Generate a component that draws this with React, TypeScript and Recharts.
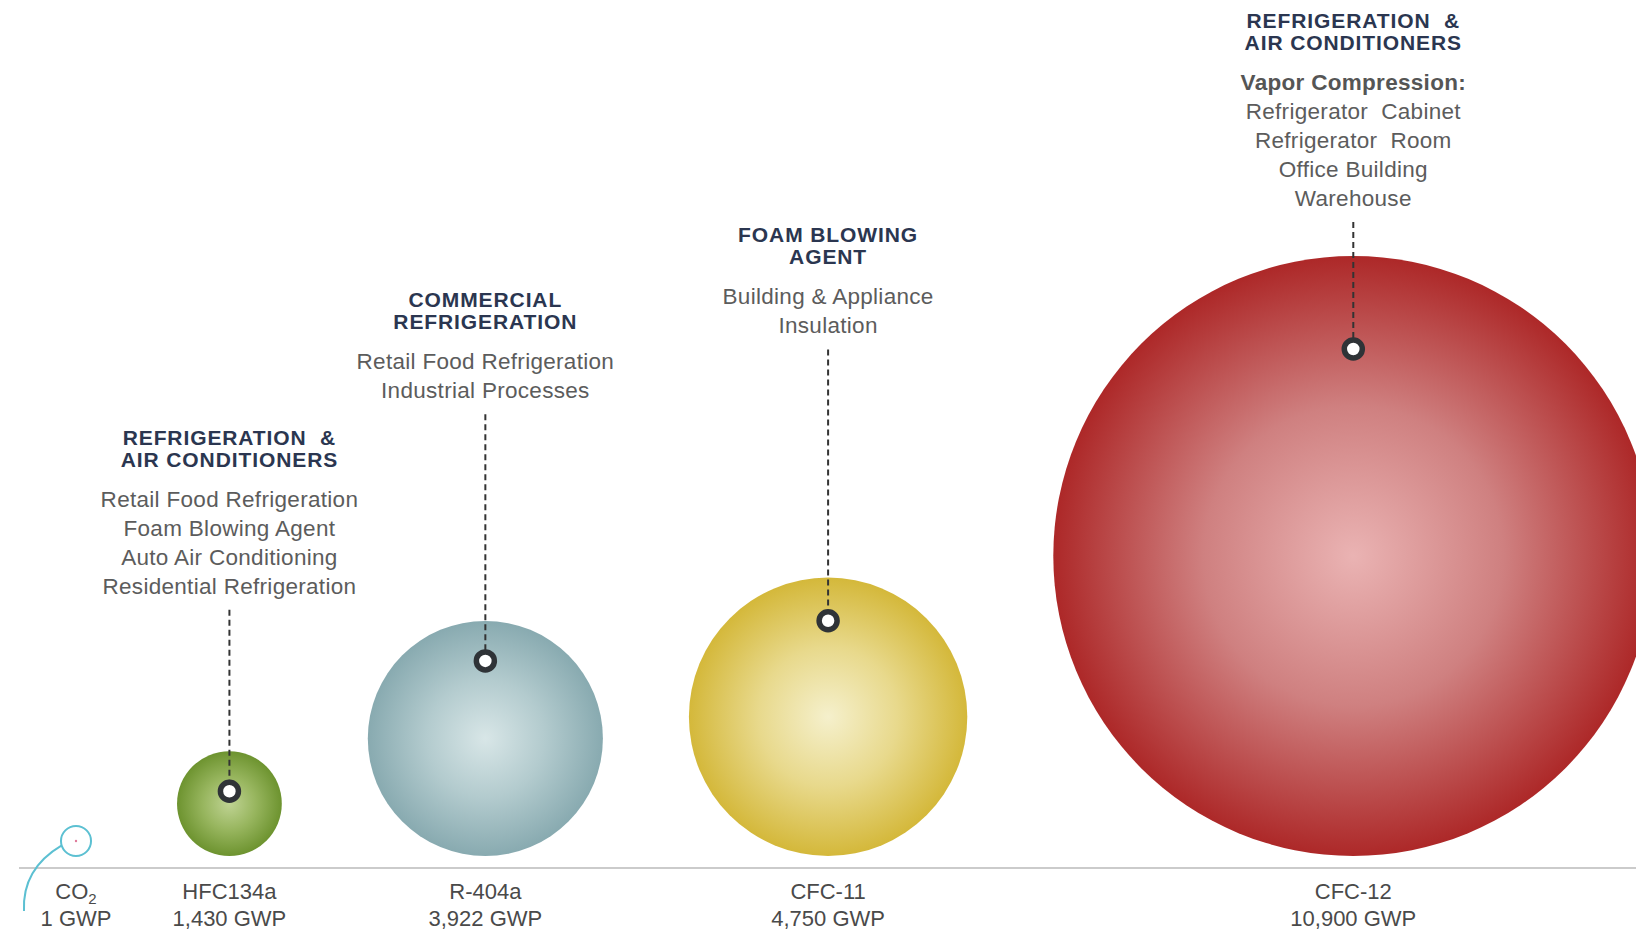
import { Scatter, ScatterChart, XAxis, YAxis, ZAxis } from 'recharts'

const compounds = ['CO2', 'HFC134a', 'R-404a', 'CFC-11', 'CFC-12']
const gwpValues = [1, 1430, 3922, 4750, 10900]
const gwpLabels = ['1 GWP', '1,430 GWP', '3,922 GWP', '4,750 GWP', '10,900 GWP']
const useTitles = [
  [],
  ['REFRIGERATION  &', 'AIR CONDITIONERS'],
  ['COMMERCIAL', 'REFRIGERATION'],
  ['FOAM BLOWING', 'AGENT'],
  ['REFRIGERATION  &', 'AIR CONDITIONERS'],
]
const useLeads = ['', '', '', '', 'Vapor Compression:']
const useLines = [
  [],
  ['Retail Food Refrigeration', 'Foam Blowing Agent', 'Auto Air Conditioning', 'Residential Refrigeration'],
  ['Retail Food Refrigeration', 'Industrial Processes'],
  ['Building & Appliance', 'Insulation'],
  ['Refrigerator  Cabinet', 'Refrigerator  Room', 'Office Building', 'Warehouse'],
]

// [center, mid, edge] for the radial shading
const bubbleColors = [
  ['#ffffff', '#ffffff', '#ffffff'],
  ['#bfd393', '#98b65f', '#6d932f'],
  ['#d8e6e7', '#b3cbce', '#88aab0'],
  ['#f5f0cc', '#e8d98c', '#d4b83a'],
  ['#eab3b3', '#cf8080', '#ad2828'],
]

const FONT = '"Liberation Sans", Arial, sans-serif'
const R_MIN = 15
const R_MAX = 300
const GWP_MAX = 10900
const GAP = 86
const START = 57

const radiusOf = (g: number) => R_MIN + ((R_MAX - R_MIN) * g) / GWP_MAX

// pack the bubbles left to right, each one touching the baseline
const xPositions: number[] = []
gwpValues.forEach((g, i) => {
  if (i === 0) xPositions.push(START)
  else xPositions.push(xPositions[i - 1] + radiusOf(gwpValues[i - 1]) + GAP + radiusOf(g))
})

const data = compounds.map((name, i) => ({ name, gwp: gwpValues[i], x: xPositions[i], y: 0, idx: i }))

function Bubble(props: any) {
  const { cx, cy, payload } = props
  const i: number = payload.idx
  const r: number = props.size ?? Math.PI * (props.width / 2) ** 2
  const cY = cy - r

  if (i === 0) {
    return (
      <g>
        <circle cx={cx} cy={cY} r={r} fill="none" stroke="#5cc0d2" strokeWidth={2} />
        <circle cx={cx} cy={cY} r={1.2} fill="#e07a9a" />
        <path
          d={`M ${cx - r * 0.95} ${cY + r * 0.3} Q ${cx - 54} ${cY + 28} ${cx - 52} ${cY + 70}`}
          fill="none"
          stroke="#5cc0d2"
          strokeWidth={2}
        />
      </g>
    )
  }

  const [c0, c1, c2] = bubbleColors[i]
  const gid = `bubble-grad-${i}`
  const markerY = cY - Math.min(r - 40, 0.69 * r)
  const titles = useTitles[i]
  const subs = useLeads[i] ? [useLeads[i], ...useLines[i]] : useLines[i]
  const subStep = 29
  const titleStep = 22
  const blockH = (subs.length - 1) * subStep + 40 + (titles.length - 1) * titleStep + 16
  const top = cy - 2 * r
  const B = Math.max(top - 105 - r, 12 + blockH)
  const firstSub = B - (subs.length - 1) * subStep

  return (
    <g>
      <defs>
        <radialGradient id={gid} cx="50%" cy="50%" r="50%">
          <stop offset="0%" stopColor={c0} />
          <stop offset="50%" stopColor={c1} />
          <stop offset="100%" stopColor={c2} />
        </radialGradient>
      </defs>
      <circle cx={cx} cy={cY} r={r} fill={`url(#${gid})`} />
      <line x1={cx} y1={B + 16} x2={cx} y2={markerY - 10} stroke="#333" strokeWidth={2} strokeDasharray="6 4" />
      <circle cx={cx} cy={markerY} r={9} fill="#fff" stroke="#2f3337" strokeWidth={5.5} />
      {titles.map((t, j) => (
        <text
          key={`t${j}`}
          x={cx}
          y={firstSub - 40 - (titles.length - 1 - j) * titleStep}
          textAnchor="middle"
          fontFamily={FONT}
          fontSize={21}
          fontWeight="bold"
          letterSpacing={0.9}
          fill="#2b3650"
          style={{ whiteSpace: 'pre' }}
        >
          {t}
        </text>
      ))}
      {subs.map((t, k) => (
        <text
          key={`s${k}`}
          x={cx}
          y={firstSub + k * subStep}
          textAnchor="middle"
          fontFamily={FONT}
          fontSize={22.5}
          fontWeight={useLeads[i] && k === 0 ? 'bold' : 'normal'}
          letterSpacing={0.3}
          fill={useLeads[i] && k === 0 ? '#555' : '#5c5c5c'}
          style={{ whiteSpace: 'pre' }}
        >
          {t}
        </text>
      ))}
    </g>
  )
}

function CompoundTick(props: any) {
  const { x, y, index } = props
  const name = compounds[index]
  return (
    <g>
      <text x={x} y={y + 31} textAnchor="middle" fontFamily={FONT} fontSize={22} fill="#4a4a4a">
        {name === 'CO2' ? (
          <>
            <tspan>CO</tspan>
            <tspan fontSize={15} dy={5}>
              2
            </tspan>
          </>
        ) : (
          name
        )}
      </text>
      <text x={x} y={y + 58} textAnchor="middle" fontFamily={FONT} fontSize={22} fill="#4a4a4a">
        {gwpLabels[index]}
      </text>
    </g>
  )
}

export default function App() {
  return (
    <div style={{ position: 'fixed', top: 0, left: 0, width: 1636, height: 932, background: '#fff', overflow: 'hidden' }}>
      <ScatterChart width={1636} height={932} margin={{ top: 0, right: 0, left: 19, bottom: 0 }}>
        <XAxis
          type="number"
          dataKey="x"
          domain={[0, 1617]}
          ticks={xPositions}
          interval={0}
          tick={<CompoundTick />}
          tickLine={false}
          tickSize={0}
          tickMargin={0}
          height={64}
          axisLine={{ stroke: '#cbcbcb', strokeWidth: 2 }}
        />
        <YAxis type="number" dataKey="y" domain={[-12, 856]} hide />
        <ZAxis type="number" dataKey="gwp" domain={[0, GWP_MAX]} range={[R_MIN, R_MAX]} />
        <Scatter data={data} shape={<Bubble />} isAnimationActive={false} />
      </ScatterChart>
    </div>
  )
}
